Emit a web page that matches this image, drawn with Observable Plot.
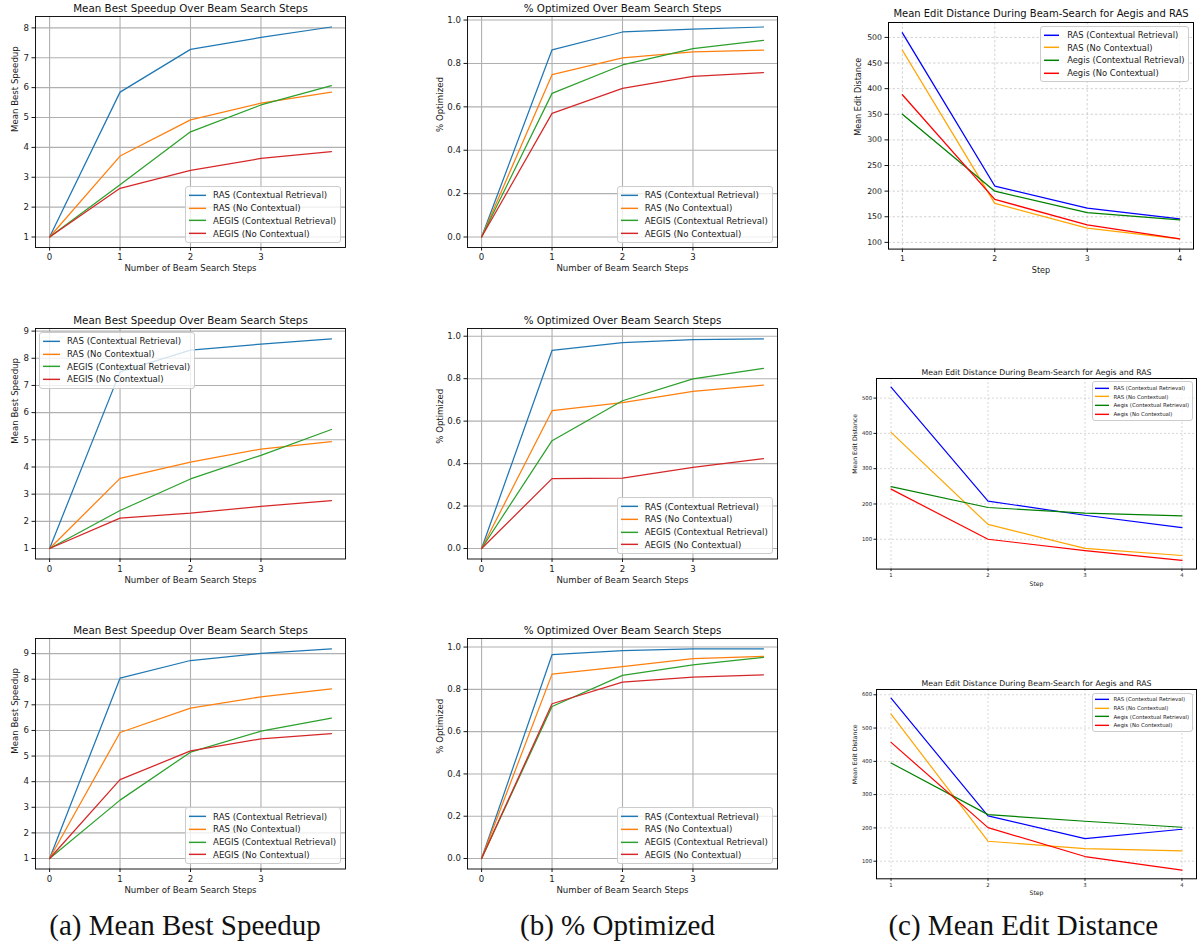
<!DOCTYPE html>
<html><head><meta charset="utf-8">
<script src="https://cdn.jsdelivr.net/npm/d3@7"></script>
<script src="https://cdn.jsdelivr.net/npm/@observablehq/plot@0.6"></script>
<style>
body{margin:0;background:#fff;}
#root{position:relative;width:1202px;height:945px;overflow:hidden;font-family:"DejaVu Sans",sans-serif;background:#fff;}
.panel{position:absolute;}
.panel svg{overflow:visible;}
.legend{position:absolute;background:rgba(255,255,255,0.8);border:1px solid #cccccc;border-radius:3px;box-sizing:border-box;color:#1a1a1a;font-family:"DejaVu Sans",sans-serif;white-space:nowrap;}
.legend .row{display:flex;align-items:center;}
.legend svg{display:block;flex:none;}
.caption{position:absolute;font-family:"Liberation Serif","Times New Roman",serif;font-size:29px;line-height:29px;color:#111;transform:translateX(-50%);white-space:nowrap;}
</style></head><body><div id="root"></div>
<script>
// ---------- data ----------
const seriesNamesAB = ["RAS (Contextual Retrieval)", "RAS (No Contextual)", "AEGIS (Contextual Retrieval)", "AEGIS (No Contextual)"];
const seriesNamesC = ["RAS (Contextual Retrieval)", "RAS (No Contextual)", "Aegis (Contextual Retrieval)", "Aegis (No Contextual)"];
const colorsAB = ["#1f77b4", "#ff7f0e", "#2ca02c", "#d62728"];
const colorsC = ["blue", "orange", "green", "red"];
const stepsAB = [0, 1, 2, 3, 4];
const stepsC = [1, 2, 3, 4];
const xTicksAB = [0, 1, 2, 3];
const xTicksC = [1, 2, 3, 4];

const speedupRow1 = [[1, 5.85, 7.28, 7.68, 8.03], [1, 3.71, 4.92, 5.48, 5.85], [1, 2.75, 4.52, 5.42, 6.07], [1, 2.63, 3.23, 3.63, 3.86]];
const speedupRow2 = [[1, 7.50, 8.30, 8.52, 8.71], [1, 3.58, 4.18, 4.66, 4.93], [1, 2.40, 3.56, 4.43, 5.38], [1, 2.12, 2.30, 2.55, 2.76]];
const speedupRow3 = [[1, 8.04, 8.73, 9.01, 9.18], [1, 5.92, 6.87, 7.31, 7.62], [1, 3.28, 5.15, 5.97, 6.48], [1, 4.08, 5.20, 5.67, 5.88]];

const optimizedRow1 = [[0, 0.863, 0.945, 0.958, 0.968], [0, 0.748, 0.826, 0.853, 0.861], [0, 0.662, 0.793, 0.868, 0.906], [0, 0.570, 0.685, 0.740, 0.758]];
const optimizedRow2 = [[0, 0.933, 0.970, 0.984, 0.987], [0, 0.649, 0.687, 0.740, 0.770], [0, 0.508, 0.696, 0.799, 0.848], [0, 0.329, 0.332, 0.382, 0.423]];
const optimizedRow3 = [[0, 0.964, 0.983, 0.991, 0.991], [0, 0.872, 0.907, 0.945, 0.956], [0, 0.719, 0.866, 0.916, 0.951], [0, 0.732, 0.834, 0.858, 0.869]];

const editRow1 = [[509, 210, 167, 146], [475, 176, 128, 107], [350, 200, 158, 144], [388, 184, 134, 107]];
const editRow2 = [[531, 208, 168, 133], [403, 142, 74, 54], [249, 190, 174, 166], [242, 100, 68, 40]];
const editRow3 = [[590, 236, 168, 196], [542, 160, 138, 131], [395, 240, 220, 202], [457, 201, 114, 73]];

const speedupTicksRow1 = [1, 2, 3, 4, 5, 6, 7, 8];
const speedupTicksRow23 = [1, 2, 3, 4, 5, 6, 7, 8, 9];
const optimizedTicks = [0, 0.2, 0.4, 0.6, 0.8, 1.0];
const editTicksRow1 = [100, 150, 200, 250, 300, 350, 400, 450, 500];
const editTicksRow2 = [100, 200, 300, 400, 500];
const editTicksRow3 = [100, 200, 300, 400, 500, 600];

const titleSpeedup = "Mean Best Speedup Over Beam Search Steps";
const titleOptimized = "% Optimized Over Beam Search Steps";
const titleEdit = "Mean Edit Distance During Beam-Search for Aegis and RAS";
const captions = ["(a) Mean Best Speedup", "(b) % Optimized", "(c) Mean Edit Distance"];

// ---------- styles ----------
const styleAB = {tick: 8.6, label: 8.6, title: 10.3, legend: 8.6, legendRow: 12.7, handle: 17, handlePad: 7,
  tickSize: 3.5, tickPad: 3, lineWidth: 1.25, frameWidth: 0.9, gridColor: "#b0b0b0", gridOpacity: 1, gridWidth: 1.1, gridDash: null,
  titleOff: 8, xLabOff: 21, inset: 4};
const styleCTop = {tick: 7.8, label: 8.1, title: 10, legend: 8.4, legendRow: 12.6, handle: 15, handlePad: 8.5,
  tickSize: 3.5, tickPad: 3, lineWidth: 1.3, frameWidth: 1, gridColor: "#b0b0b0", gridOpacity: 0.7, gridWidth: 0.8, gridDash: "2.5,2",
  titleOff: 9, xLabOff: 21, inset: 4};
const styleCSmall = {tick: 5.3, label: 6.2, title: 7.8, legend: 5.4, legendRow: 8.7, handle: 14, handlePad: 5,
  tickSize: 2.5, tickPad: 2, lineWidth: 1.2, frameWidth: 1, gridColor: "#b0b0b0", gridOpacity: 0.7, gridWidth: 0.7, gridDash: "2,2",
  titleOff: 5.5, xLabOff: 14.5, inset: 3.5};

const root = document.getElementById("root");
const mL = 50, mR = 12, mT = 30, mB = 34;

function padDomain(ext) { const d = (ext[1] - ext[0]) * 0.05; return [ext[0] - d, ext[1] + d]; }

function panel(cfg) {
  const {x0, y0, w, h, steps, values, names, colors, xTicks, yTicks, yFmt, title, xLabel, yLabel, s, yLabOff, legendLoc} = cfg;
  const rows = values.flatMap((vals, i) => vals.map((v, j) => ({series: names[i], step: steps[j], value: v})));
  const gridOpt = {stroke: s.gridColor, strokeOpacity: s.gridOpacity, strokeWidth: s.gridWidth, strokeDasharray: s.gridDash};
  const svg = Plot.plot({
    width: w + mL + mR, height: h + mT + mB,
    marginLeft: mL, marginRight: mR, marginTop: mT, marginBottom: mB,
    style: {fontFamily: '"DejaVu Sans", sans-serif', fontSize: s.tick + "px", color: "#1a1a1a", background: "transparent", overflow: "visible"},
    x: {domain: padDomain(d3.extent(steps))},
    y: {domain: padDomain(d3.extent(values.flat()))},
    color: {domain: names, range: colors},
    marks: [
      Plot.gridX(xTicks, gridOpt),
      Plot.gridY(yTicks, gridOpt),
      Plot.line(rows, {x: "step", y: "value", z: "series", stroke: "series", strokeWidth: s.lineWidth}),
      Plot.frame({stroke: "#000", strokeWidth: s.frameWidth}),
      Plot.axisX(xTicks, {tickSize: s.tickSize, tickPadding: s.tickPad, label: null, fontSize: s.tick}),
      Plot.axisY(yTicks, {tickSize: s.tickSize, tickPadding: s.tickPad, tickFormat: yFmt, label: null, fontSize: s.tick}),
      Plot.text([title], {text: d => d, frameAnchor: "top", dy: -s.titleOff, lineAnchor: "middle", fontSize: s.title, fill: "#111"}),
      Plot.text([xLabel], {text: d => d, frameAnchor: "bottom", dy: s.xLabOff, lineAnchor: "middle", fontSize: s.label}),
      Plot.text([yLabel], {text: d => d, frameAnchor: "left", dx: -yLabOff, rotate: -90, lineAnchor: "middle", fontSize: s.label})
    ]
  });
  const wrap = document.createElement("div");
  wrap.className = "panel";
  wrap.style.left = (x0 - mL) + "px";
  wrap.style.top = (y0 - mT) + "px";
  wrap.style.width = (w + mL + mR) + "px";
  wrap.style.height = (h + mT + mB) + "px";
  wrap.appendChild(svg);

  // legend
  const lg = document.createElement("div");
  lg.className = "legend";
  lg.style.fontSize = s.legend + "px";
  lg.style.padding = `${s.legend * 0.25}px ${s.legend * 0.45}px ${s.legend * 0.25}px ${s.legend * 0.35}px`;
  names.forEach((n, i) => {
    const row = document.createElement("div");
    row.className = "row";
    row.style.height = s.legendRow + "px";
    const sw = document.createElementNS("http://www.w3.org/2000/svg", "svg");
    sw.setAttribute("width", s.handle); sw.setAttribute("height", s.legendRow);
    const ln = document.createElementNS("http://www.w3.org/2000/svg", "line");
    ln.setAttribute("x1", 0); ln.setAttribute("x2", s.handle);
    ln.setAttribute("y1", s.legendRow / 2); ln.setAttribute("y2", s.legendRow / 2);
    ln.setAttribute("stroke", colors[i]); ln.setAttribute("stroke-width", s.lineWidth + 0.2);
    sw.appendChild(ln);
    const tx = document.createElement("span");
    tx.textContent = n;
    tx.style.marginLeft = s.handlePad + "px";
    row.appendChild(sw); row.appendChild(tx);
    lg.appendChild(row);
  });
  const ins = s.inset;
  if (legendLoc === "lower right") { lg.style.right = (mR + ins) + "px"; lg.style.bottom = (mB + ins) + "px"; }
  if (legendLoc === "upper left") { lg.style.left = (mL + ins) + "px"; lg.style.top = (mT + ins) + "px"; }
  if (legendLoc === "upper right") { lg.style.right = (mR + ins) + "px"; lg.style.top = (mT + ins) + "px"; }
  wrap.appendChild(lg);
  root.appendChild(wrap);
}

const fmtInt = d3.format("d");
const fmt1 = d3.format(".1f");
const xLabAB = "Number of Beam Search Steps";

const colA = {x0: 35, w: 310};
const colB = {x0: 466.7, w: 310};
const rowsAB = [{y0: 16, h: 231}, {y0: 327.7, h: 230.5}, {y0: 637.7, h: 230.5}];

const speedupData = [speedupRow1, speedupRow2, speedupRow3];
const speedupTicks = [speedupTicksRow1, speedupTicksRow23, speedupTicksRow23];
const speedupLegend = ["lower right", "upper left", "lower right"];
speedupData.forEach((vals, r) => panel({
  ...colA, ...rowsAB[r], steps: stepsAB, values: vals, names: seriesNamesAB, colors: colorsAB,
  xTicks: xTicksAB, yTicks: speedupTicks[r], yFmt: fmtInt, title: titleSpeedup, xLabel: xLabAB, yLabel: "Mean Best Speedup",
  s: styleAB, yLabOff: 20, legendLoc: speedupLegend[r]
}));

const optimizedData = [optimizedRow1, optimizedRow2, optimizedRow3];
optimizedData.forEach((vals, r) => panel({
  ...colB, ...rowsAB[r], steps: stepsAB, values: vals, names: seriesNamesAB, colors: colorsAB,
  xTicks: xTicksAB, yTicks: optimizedTicks, yFmt: fmt1, title: titleOptimized, xLabel: xLabAB, yLabel: "% Optimized",
  s: styleAB, yLabOff: 27.5, legendLoc: "lower right"
}));

const editData = [editRow1, editRow2, editRow3];
const editTicks = [editTicksRow1, editTicksRow2, editTicksRow3];
const editGeom = [{x0: 888.3, w: 305, y0: 21.7, h: 226.6}, {x0: 876, w: 320, y0: 377.7, h: 190.6}, {x0: 876, w: 320, y0: 689, h: 189.3}];
const editStyle = [styleCTop, styleCSmall, styleCSmall];
const editYOff = [30, 21, 21];
editData.forEach((vals, r) => panel({
  ...editGeom[r], steps: stepsC, values: vals, names: seriesNamesC, colors: colorsC,
  xTicks: xTicksC, yTicks: editTicks[r], yFmt: fmtInt, title: titleEdit, xLabel: "Step", yLabel: "Mean Edit Distance",
  s: editStyle[r], yLabOff: editYOff[r], legendLoc: "upper right"
}));

// captions
const capX = [185, 617.5, 1023.3];
captions.forEach((c, i) => {
  const d = document.createElement("div");
  d.className = "caption";
  d.style.left = capX[i] + "px";
  d.style.top = "911px";
  d.textContent = c;
  root.appendChild(d);
});
</script></body></html>
